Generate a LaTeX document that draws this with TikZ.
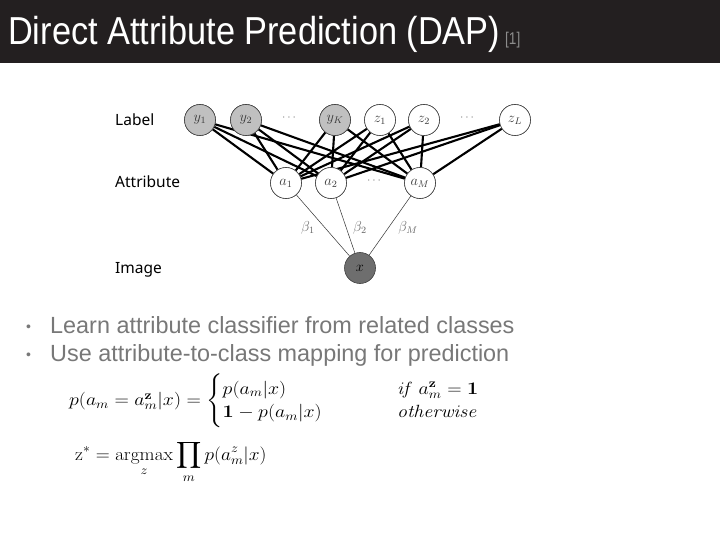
\RequirePackage{fix-cm}
\documentclass[tikz,border=0pt]{standalone}
\usepackage{amsmath}
\usepackage[no-math]{fontspec}
\setmainfont{Liberation Sans}
\newfontfamily\lblfont{Noto Sans}
\definecolor{titlebg}{RGB}{35,31,32}
\definecolor{bulletgray}{RGB}{120,120,120}
\definecolor{ynode}{RGB}{192,192,192}
\definecolor{xnode}{RGB}{110,110,110}
\definecolor{nodetext}{RGB}{60,60,60}
\newcommand{\nlab}[1]{\scalebox{1.2}{$#1$}}
\begin{document}
\begin{tikzpicture}[x=1pt,y=-1pt,
  pnode/.style={circle,draw=black!75,line width=0.6pt,minimum size=31pt,inner sep=0pt,font=\fontsize{12}{12}\selectfont,text=nodetext},
  ycls/.style={pnode,fill=ynode},
  zcls/.style={pnode,fill=white},
  attr/.style={pnode,fill=white},
  img/.style={pnode,fill=xnode,text=black},
  dotlbl/.style={font=\fontsize{12}{12}\selectfont,text=black!50,inner sep=0pt},
  edge/.style={line width=2.1pt,black},
  thin/.style={line width=0.5pt,black!80},
  sidelbl/.style={anchor=base west,inner sep=0pt,font=\lblfont\fontsize{15.5}{16}\selectfont},
  betalbl/.style={font=\fontsize{12}{12}\selectfont,text=black!60,inner sep=0pt},
  bullettxt/.style={anchor=base west,inner sep=0pt,font=\fontsize{23.4}{25}\selectfont,text=bulletgray}]
\useasboundingbox (0,0) rectangle (720,540);
\fill[white] (0,0) rectangle (720,540);
\fill[titlebg] (0,0) rectangle (720,63);
\node[anchor=base west,inner sep=0pt,text=white] (title) at (8,45)
  {\scalebox{0.88}[1]{\fontsize{39}{40}\selectfont Direct Attribute Prediction (DAP)}};
\node[anchor=base west,inner sep=0pt,text=black!45] (ref) at (505,45)
  {\scalebox{0.8}[1]{\fontsize{17}{18}\selectfont [1]}};

% side labels
\node[sidelbl] (lbl) at (115,126) {Label};
\node[sidelbl] (att) at (115,188) {Attribute};
\node[sidelbl] (imgl) at (115,273) {Image};

% label row
\node[ycls] (y1) at (200,120) {\nlab{y_1}};
\node[ycls] (y2) at (246,120) {\nlab{y_2}};
\node[dotlbl] (d1) at (290,118) {$\cdots$};
\node[ycls] (yK) at (335,120) {\nlab{y_K}};
\node[zcls] (z1) at (380,120) {\nlab{z_1}};
\node[zcls] (z2) at (424,120) {\nlab{z_2}};
\node[dotlbl] (d2) at (468,118) {$\cdots$};
\node[zcls] (zL) at (515,120) {\nlab{z_L}};

% attribute row
\node[attr] (a1) at (286,183) {\nlab{a_1}};
\node[attr] (a2) at (331,183) {\nlab{a_2}};
\node[dotlbl] (d3) at (375,181) {$\cdots$};
\node[attr] (aM) at (420,183) {\nlab{a_M}};

% image
\node[img] (x) at (360,268) {\nlab{x}};

% thick edges
\foreach \c in {y1,y2,yK,z1,z2,zL}{
  \foreach \a in {a1,a2,aM}{
    \draw[edge] (\c) -- (\a);
  }
}

% thin edges
\draw[thin] (a1) -- (x);
\draw[thin] (a2) -- (x);
\draw[thin] (aM) -- (x);
\node[betalbl] (b1) at (308,228) {\nlab{\beta_1}};
\node[betalbl] (b2) at (360,228) {\nlab{\beta_2}};
\node[betalbl] (bM) at (408,228) {\nlab{\beta_M}};

% redraw nodes on top of the edges
\node[ycls] at (y1) {\nlab{y_1}};
\node[ycls] at (y2) {\nlab{y_2}};
\node[ycls] at (yK) {\nlab{y_K}};
\node[zcls] at (z1) {\nlab{z_1}};
\node[zcls] at (z2) {\nlab{z_2}};
\node[zcls] at (zL) {\nlab{z_L}};
\node[attr] at (a1) {\nlab{a_1}};
\node[attr] at (a2) {\nlab{a_2}};
\node[attr] at (aM) {\nlab{a_M}};

% bullets
\node[anchor=base west,inner sep=0pt,font=\fontsize{14}{14}\selectfont,text=bulletgray] (bul1) at (26,331) {\textbullet};
\node[bullettxt] (t1) at (50,333) {Learn attribute classifier from related classes};
\node[anchor=base west,inner sep=0pt,font=\fontsize{14}{14}\selectfont,text=bulletgray] (bul2) at (26,359) {\textbullet};
\node[bullettxt] (t2) at (50,361) {Use attribute-to-class mapping for prediction};

% equations
\node[anchor=west,inner sep=0pt,font=\fontsize{17}{20}\selectfont] (eq1) at (69,401)
  {\scalebox{1.17}[1.04]{$p(a_m=a_m^{\mathbf{z}}|x)=\begin{cases}\makebox[132pt][l]{$p(a_m|x)$} & \mathit{if}\ a_m^{\mathbf{z}}=\mathbf{1}\\[-1pt]
  \makebox[132pt][l]{$\mathbf{1}-p(a_m|x)$} & \mathit{otherwise}\end{cases}$}};
\node[anchor=west,inner sep=0pt,font=\fontsize{17}{20}\selectfont] (eq2) at (75,462)
  {\scalebox{1.14}[1.07]{$\displaystyle \mathrm{z}^{*}=\operatorname*{argmax}_{z}\prod_{m}p(a_m^{z}|x)$}};
\end{tikzpicture}
\end{document}
